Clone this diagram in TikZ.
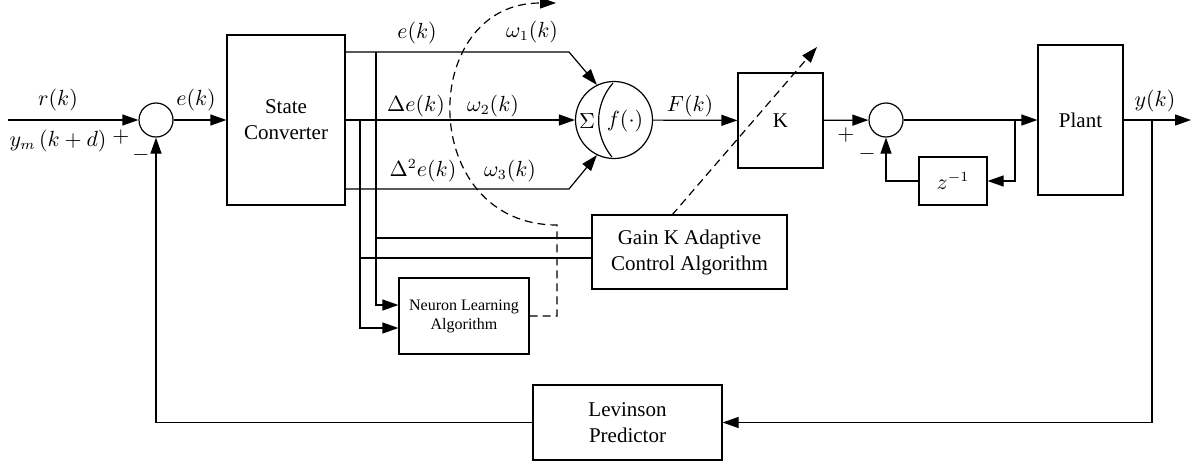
\documentclass[tikz,border=0pt]{standalone}
\usepackage{fontspec}
\setmainfont{Liberation Serif}
\usetikzlibrary{arrows.meta,calc}
\begin{document}
\begin{tikzpicture}[x=0.5pt,y=-0.5pt,line width=0.6pt,
  >={Triangle[length=8pt,width=5.5pt]},
  lbl/.style={inner sep=0pt, font=\fontsize{10.5}{12}\selectfont},
  dsh/.style={dash pattern=on 4pt off 2.5pt}]
\tikzstyle{blk}=[draw, inner sep=2pt, align=center, font=\fontsize{10.5}{13}\selectfont]
\tikzstyle{sum}=[circle, draw, minimum size=17pt, inner sep=0pt]
\useasboundingbox (0,0) rectangle (1192,466);
% blocks
\node[sum] (sum1) at (156,120) {};
\node[blk, minimum width=59pt, minimum height=85pt] (sc) at (286,120) {State\\Converter};
\node[circle, draw, minimum size=38.5pt, inner sep=0pt] (neu) at (614,120) {};
\node[blk, minimum width=42.5pt, minimum height=47.5pt] (kbox) at (780.5,120.5) {K};
\node[sum] (sum2) at (886,120) {};
\node[blk, minimum width=34pt, minimum height=24pt] (zinv) at (953,181) {$z^{-1}$};
\node[blk, minimum width=42.5pt, minimum height=75pt] (plant) at (1080.5,120) {Plant};
\node[blk, minimum width=97.5pt, minimum height=37pt] (gain) at (689.5,252) {Gain K Adaptive\\Control Algorithm};
\node[blk, minimum width=65pt, minimum height=38pt, font=\fontsize{8}{9.5}\selectfont] (nla) at (464,316) {Neuron Learning\\Algorithm};
\node[blk, minimum width=94.5pt, minimum height=37.5pt] (lev) at (627.5,422.5) {Levinson\\Predictor};
% inside the neuron
\draw (613,83) .. controls (594,105) and (594,135) .. (612,157);
\node[lbl] (sig) at (587,121) {$\Sigma$};
\node[lbl] (fdot) at (625,121) {$f(\cdot)$};
% junctions
\coordinate (in) at (8,120);
\coordinate (e1) at (569,52);
\coordinate (e3) at (569,189);
\coordinate (v1) at (376,52);
\coordinate (v2) at (360,120);
\coordinate (g1) at ($(gain.west)+(0,7pt)$);
\coordinate (g2) at ($(gain.west)+(0,-3pt)$);
\coordinate (d1) at (557,316);
\coordinate (d2) at (557,225);
\coordinate (d3) at (556,3);
\coordinate (k1) at (672,215);
\coordinate (k2) at (817,47);
\coordinate (z1) at (1015,120);
\coordinate (yb) at (1152,120);
\coordinate (out) at (1191,120);
% signal flow
\foreach \i/\j in {in/sum1,sum1/sc,sc/neu,neu/kbox,kbox/sum2,sum2/plant,plant/out}{\draw[->] (\i) -- (\j);}
\draw[->] (sc.east |- e1) -- (e1) -- (neu.116);
\draw[->] (sc.east |- e3) -- (e3) -- (neu.244);
\draw[->] (v1) |- ($(nla.west)+(0,5.5pt)$);
\draw[->] (v2) |- ($(nla.west)+(0,-6pt)$);
\draw (v1 |- g1) -- (g1);
\draw (v2 |- g2) -- (g2);
\draw[->] (z1) |- (zinv);
\draw[->] (zinv) -| (sum2);
\draw[->] (yb) |- (lev);
\draw[->] (lev) -| (sum1);
% adaptation
\draw[dsh,->] (nla.east |- d1) -- (d1) -- (d2) .. controls (417,225) and (417,3) .. (d3);
\draw[dsh,->] (k1) -- (k2);
% labels
\node[lbl] (rk) at (58,100) {$r(k)$};
\node[lbl] (ym) at (58,141) {$y_m\,(k+d)$};
\node[lbl] (p1) at (121,137) {$+$};
\node[lbl] (m1) at (141,155) {$-$};
\node[lbl] (ek) at (196,100) {$e(k)$};
\node[lbl] (l1) at (417,33) {$e(k)$};
\node[lbl] (l2) at (416,106) {$\Delta e(k)$};
\node[lbl] (l3) at (423,171) {$\Delta^2 e(k)$};
\node[lbl] (w1) at (532,32) {$\omega_1(k)$};
\node[lbl] (w2) at (493,106) {$\omega_2(k)$};
\node[lbl] (w3) at (510,171) {$\omega_3(k)$};
\node[lbl] (fk) at (690,106) {$F(k)$};
\node[lbl] (p2) at (846,135) {$+$};
\node[lbl] (m2) at (867,154) {$-$};
\node[lbl] (yk) at (1155,101) {$y(k)$};
\end{tikzpicture}
\end{document}
